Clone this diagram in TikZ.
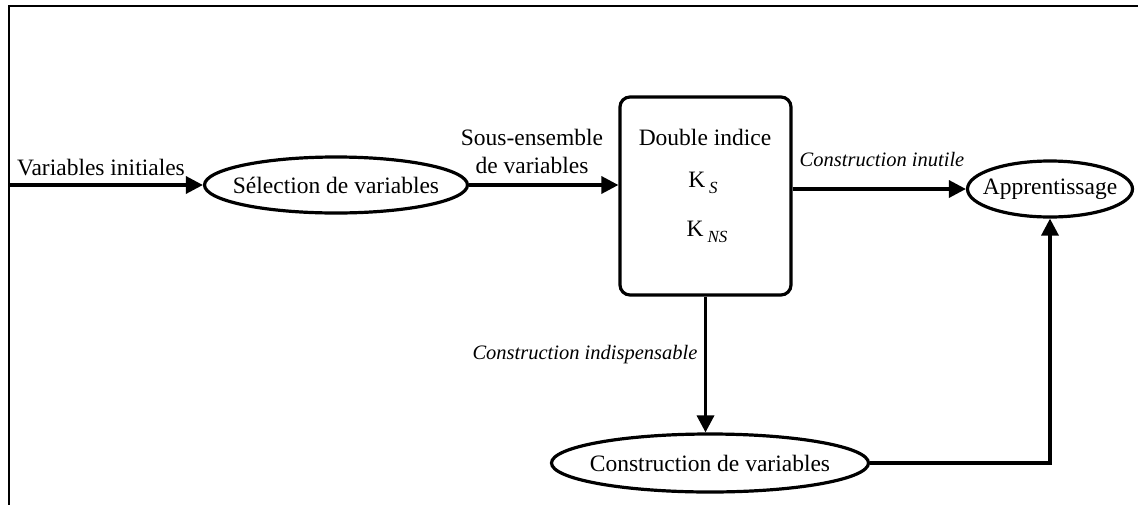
\documentclass[tikz,border=0pt]{standalone}
\usepackage{fontspec}
\setmainfont{Liberation Serif}
\usetikzlibrary{arrows.meta,shapes.geometric}
\tikzset{
  conn/.style={line width=3.4pt,-{Triangle[length=17pt,width=17pt]}},
  ell/.style={ellipse,draw,line width=3.2pt,inner sep=0pt,fill=white},
  txt/.style={font=\fontsize{23.5}{28}\selectfont,inner sep=0pt,align=center},
  itxt/.style={font=\fontsize{20.5}{24}\selectfont\itshape,inner sep=0pt},
  frameline/.style={line width=2.4pt}
}
\newcommand{\subk}[1]{K\,\raisebox{-0.55ex}{\fontsize{17}{17}\selectfont\itshape #1}}
\begin{document}
\begin{tikzpicture}[x=1pt,y=-1pt]
\useasboundingbox (0,0) rectangle (1138,504);
% frame (top and left edges only)
\coordinate (ftl) at (9,6);
\coordinate (ftr) at (1140,6);
\coordinate (fbl) at (9,506);
\draw[frameline] (ftr) -- (ftl) -- (fbl);
% nodes
\node[ell,minimum width=263,minimum height=56] (sel) at (336,185) {};
\node[txt] (selt) at (336,185) {Sélection de variables};
\node[draw,rounded corners=10pt,line width=3.2pt,minimum width=171,minimum height=198,inner sep=0pt] (box) at (705.5,196) {};
\node[txt] (di) at (705,137) {Double indice};
\node[txt] (ks) at (703,183) {\subk{S}};
\node[txt] (kns) at (707,232) {\subk{NS}};
\node[ell,minimum width=165,minimum height=56] (app) at (1050,189) {};
\node[txt] (appt) at (1050,189) {Apprentissage};
\node[ell,minimum width=317,minimum height=58] (cons) at (710,463) {};
\node[txt] (const) at (710,463) {Construction de variables};
% labels
\node[txt] (lvi) at (101,168) {Variables initiales};
\node[txt] (lse) at (532,151) {Sous-ensemble\\de variables};
\node[itxt] (lci) at (882,160) {Construction inutile};
\node[itxt] (lcd) at (585,355) {Construction indispensable};
% connectors
\coordinate (start) at (9,185);
\draw[conn] (start) -- (sel.west);
\draw[conn] (sel.east) -- (sel.east -| box.west);
\draw[conn] (box.east |- app.west) -- (app.west);
\draw[conn] (box.south) -- (box.south |- cons.north);
\draw[conn] (cons.east) -| (app.south);
\end{tikzpicture}
\end{document}
